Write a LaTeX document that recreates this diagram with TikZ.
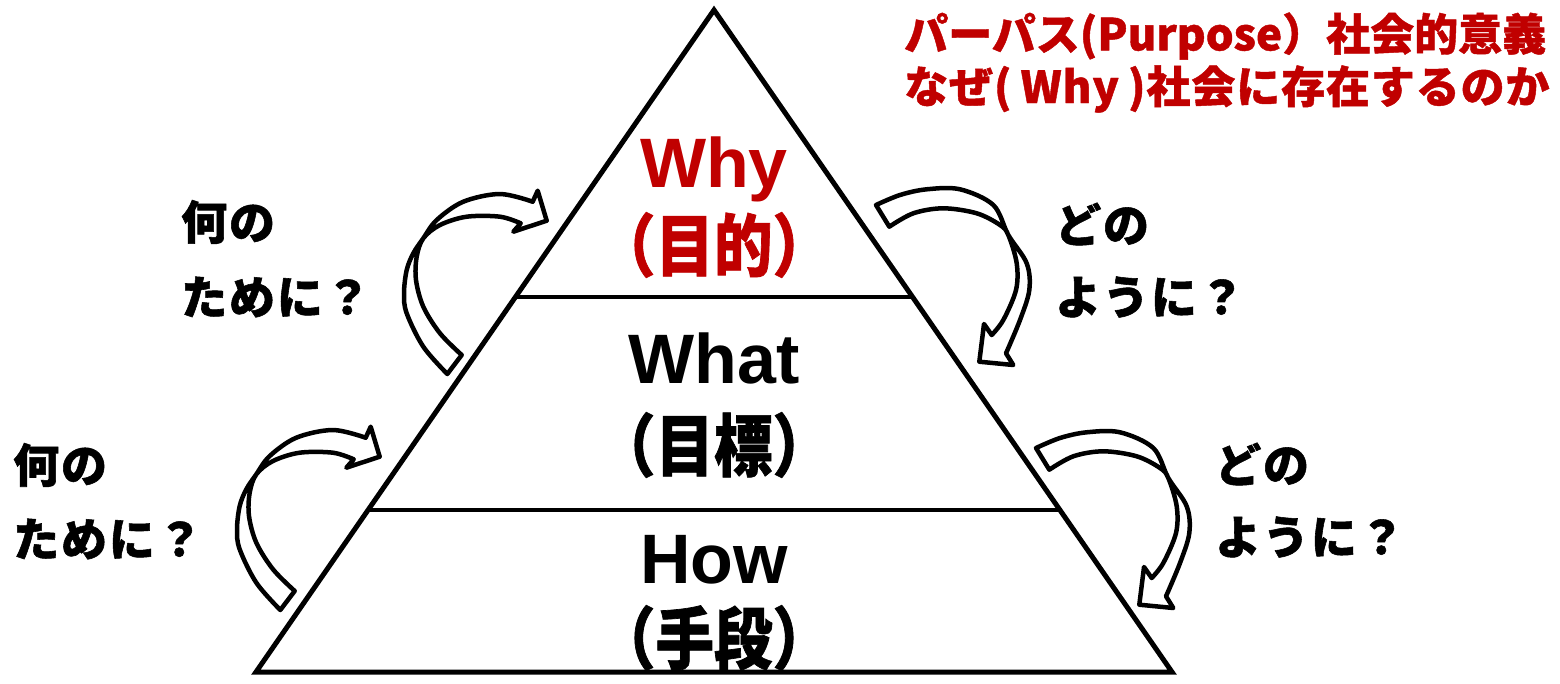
\documentclass[tikz,border=0pt]{standalone}
\usepackage{fontspec}
\usetikzlibrary{calc}
\setmainfont{Liberation Sans}
\newfontfamily\jpc{Noto Sans CJK JP}[FakeStretch=0.86, FakeBold=1]
\newfontfamily\jpl{Noto Sans CJK JP}[LetterSpace=4, FakeBold=1.2]
\newfontfamily\jph{Noto Sans CJK JP}[FakeBold=1]
\newfontfamily\jphs{Noto Sans CJK JP}[LetterSpace=2, FakeBold=1]
\definecolor{ttred}{HTML}{C00000}
\tikzset{
  pyredge/.style={line width=5pt, line join=miter},
  tier/.style={line width=4.5pt},
  bendarrow/.style={draw=black, fill=white, line width=4.5pt, line join=round},
  bigen/.style={font=\bfseries\fontsize{70}{70}\selectfont, inner sep=0pt, anchor=base},
  bigjp/.style={font=\jpc\bfseries\fontsize{68}{68}\selectfont, inner sep=0pt},
  lbl/.style={font=\jpl\bfseries\fontsize{46}{46}\selectfont, inner sep=0pt, anchor=west},
  headtxt/.style={font=\jph\bfseries\fontsize{44}{44}\selectfont, inner sep=0pt, anchor=west, text=ttred},
  headtxtb/.style={font=\jphs\bfseries\fontsize{44}{44}\selectfont, inner sep=0pt, anchor=west, text=ttred},
  loopleft/.pic={
    \path[bendarrow]
      plot[smooth, tension=0.55] coordinates {(447.3,374) (423.3,346.7) (406.7,313.3) (404,293.3) (406.7,270) (413.3,253.3) (423.3,238.3) (436.7,220) (463.3,201.7) (500,194) (532.7,201.7)}
      -- (537.7,190.7) -- (546.7,220.7) -- (513.3,231.7) -- (520.7,223.3)
      -- plot[smooth, tension=0.55] coordinates {(520.7,223.3) (500,216.7) (466.7,216.7) (440,225) (423.3,238.3) (416.7,256.7) (416,280) (423.3,306.7) (440,333.3) (461.7,355)}
      -- cycle;
  },
  loopright/.pic={
    \path[bendarrow]
      plot[smooth, tension=0.55] coordinates {(876,205) (900,195) (926.7,189.3) (960,189.3) (993.3,205) (1008.3,235) (1026.7,263.3) (1029.3,290) (1020,320) (1006,353.3)}
      -- (1013.3,365) -- (979.3,361.7) -- (984,324) -- (991.7,335)
      -- plot[smooth, tension=0.55] coordinates {(991.7,335) (1003.3,320) (1016,290) (1016.7,263.3) (1008.3,235) (1000,225) (976.7,213.3) (943.3,208.3) (913.3,213.3) (889.3,226.7)}
      -- cycle;
  }
}
\begin{document}
\begin{tikzpicture}[x=1pt,y=-1pt]
\useasboundingbox (0,0) rectangle (1560,683);
% pyramid
\coordinate (apex) at (714,10);
\coordinate (bl) at (256,672);
\coordinate (br) at (1172,672);
\draw[pyredge] (apex) -- (br) -- (bl) -- cycle;
\coordinate (t1l) at ($(apex)!0.4335!(bl)$);
\coordinate (t1r) at ($(apex)!0.4335!(br)$);
\coordinate (t2l) at ($(apex)!0.7553!(bl)$);
\coordinate (t2r) at ($(apex)!0.7553!(br)$);
\draw[tier] (t1l) -- (t1r);
\draw[tier] (t2l) -- (t2r);
% curved arrows
\pic at (0,0) {loopleft};
\pic at (-167,236) {loopleft};
\pic at (0,0) {loopright};
\pic at (160,243) {loopright};
% tier texts
\node[bigen, text=ttred] (why) at (714,187) {Why};
\node[bigjp, text=ttred] (whyj) at (714,245) {（目的）};
\node[bigen] (what) at (714,383) {What};
\node[bigjp] (whatj) at (714,445) {（目標）};
\node[bigen] (how) at (714,583) {How};
\node[bigjp] (howj) at (714,638) {（手段）};
% side labels
\node[lbl] (q1a) at (181,222) {何の};
\node[lbl] (q1b) at (181,297) {ために？};
\node[lbl] (q2a) at (13,465) {何の};
\node[lbl] (q2b) at (13,539) {ために？};
\node[lbl] (h1a) at (1055,224) {どの};
\node[lbl] (h1b) at (1055,297) {ように？};
\node[lbl] (h2a) at (1215,464) {どの};
\node[lbl] (h2b) at (1215,537) {ように？};
% header
\node[headtxt] (hd1) at (904,36) {パーパス(Purpose）社会的意義};
\node[headtxtb] (hd2) at (904,89) {なぜ(\hspace{9pt}Why\hspace{9pt})社会に存在するのか};
\end{tikzpicture}
\end{document}
